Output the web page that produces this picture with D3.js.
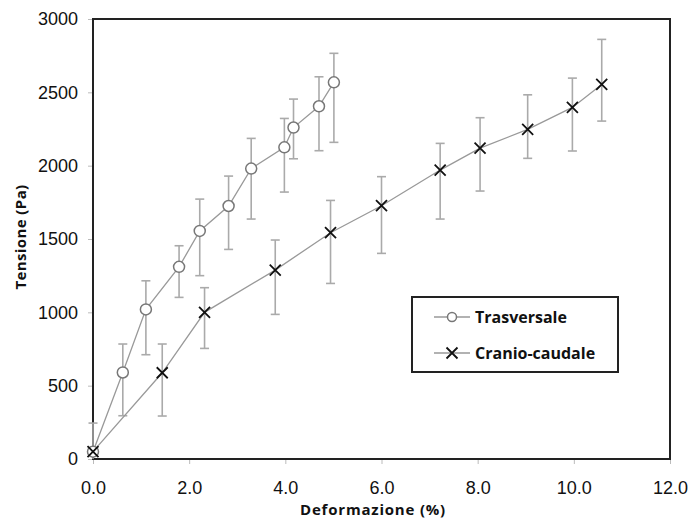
<!DOCTYPE html>
<html>
<head>
<meta charset="utf-8">
<script src="https://cdn.jsdelivr.net/npm/d3@7"></script>
<style>
  body { margin: 0; background: #fff; }
  svg { display: block; }
</style>
</head>
<body>
<div id="chart"></div>
<script>
/* Data */
const trasvX = [0, 0.62, 1.1, 1.79, 2.22, 2.82, 3.29, 3.98, 4.17, 4.7, 5.01]
const trasvY = [50, 590, 1020, 1310, 1555, 1725, 1980, 2125, 2260, 2405, 2568]
const trasvLo = [50, 295, 711, 1102, 1250, 1429, 1636, 1820, 2047, 2102, 2159]
const trasvHi = [50, 784, 1215, 1454, 1772, 1929, 2186, 2322, 2454, 2606, 2766]

const cranioX = [0, 1.44, 2.32, 3.79, 4.94, 6.0, 7.22, 8.05, 9.04, 9.97, 10.58]
const cranioY = [50, 588, 1000, 1288, 1543, 1727, 1970, 2120, 2247, 2397, 2554]
const cranioLo = [0, 293, 754, 986, 1197, 1402, 1636, 1827, 2050, 2100, 2304]
const cranioHi = [245, 784, 1168, 1493, 1763, 1925, 2152, 2327, 2483, 2597, 2861]

const xTicks = [0, 2, 4, 6, 8, 10, 12]
const yTicks = [0, 500, 1000, 1500, 2000, 2500, 3000]
const seriesNames = ["Trasversale", "Cranio-caudale"]
/* End Data */

const width = 689
const height = 518
const margin = {top: 19, right: 19, bottom: 59, left: 93}

const svg = d3.select("#chart").append("svg")
    .attr("width", width)
    .attr("height", height)

const x = d3.scaleLinear().domain([0, 12]).range([margin.left, width - margin.right])
const y = d3.scaleLinear().domain([0, 3000]).range([height - margin.bottom, margin.top])

// axes
const xAxis = svg.append("g")
    .attr("transform", `translate(0,${height - margin.bottom})`)
    .call(d3.axisBottom(x).tickValues(xTicks).tickFormat(d3.format(".1f")).tickSize(5).tickPadding(17))
const yAxis = svg.append("g")
    .attr("transform", `translate(${margin.left},0)`)
    .call(d3.axisLeft(y).tickValues(yTicks).tickFormat(d3.format("d")).tickSize(5).tickPadding(10))

;[xAxis, yAxis].forEach(g => {
  g.select(".domain").remove()
  g.selectAll(".tick line").attr("stroke", "#bbb")
  g.selectAll(".tick text")
      .attr("font-family", "Liberation Sans, Arial, sans-serif")
      .attr("font-size", 18)
      .attr("fill", "#111")
})

// frame
svg.append("rect")
    .attr("x", x(0))
    .attr("y", y(3000))
    .attr("width", x(12) - x(0))
    .attr("height", y(0) - y(3000))
    .attr("fill", "none")
    .attr("stroke", "#222")
    .attr("stroke-width", 2)

svg.append("text")
    .attr("x", 373)
    .attr("y", 515)
    .attr("text-anchor", "middle")
    .attr("font-family", "Open Sans, sans-serif")
    .attr("font-weight", "bold")
    .attr("font-size", 15)
    .attr("letter-spacing", 0.8)
    .attr("fill", "#111")
    .text("Deformazione (%)")

svg.append("text")
    .attr("transform", `translate(26,237) rotate(-90)`)
    .attr("text-anchor", "middle")
    .attr("font-family", "Open Sans, sans-serif")
    .attr("font-weight", "bold")
    .attr("font-size", 15)
    .attr("letter-spacing", 0.4)
    .attr("fill", "#111")
    .text("Tensione (Pa)")

const line = d3.line()

const drawErrors = (xs, lo, hi) => {
  const g = svg.append("g").attr("stroke", "#aaa").attr("stroke-width", 1.6)
  xs.forEach((d, i) => {
    if (hi[i] === lo[i]) return
    g.append("line").attr("x1", x(d)).attr("x2", x(d)).attr("y1", y(lo[i])).attr("y2", y(hi[i]))
    g.append("line").attr("x1", x(d) - 4.5).attr("x2", x(d) + 4.5).attr("y1", y(hi[i])).attr("y2", y(hi[i]))
    if (lo[i] > 0) {
      g.append("line").attr("x1", x(d) - 4.5).attr("x2", x(d) + 4.5).attr("y1", y(lo[i])).attr("y2", y(lo[i]))
    }
  })
}

drawErrors(trasvX, trasvLo, trasvHi)
drawErrors(cranioX, cranioLo, cranioHi)

const drawLine = (xs, ys) => {
  svg.append("path")
      .attr("d", line(xs.map((d, i) => [x(d), y(ys[i])])))
      .attr("fill", "none")
      .attr("stroke", "#999")
      .attr("stroke-width", 1.3)
}

drawLine(trasvX, trasvY)
drawLine(cranioX, cranioY)

const circle = (g, cx, cy, r) => g.append("circle")
    .attr("cx", cx).attr("cy", cy).attr("r", r)
    .attr("fill", "#fff").attr("stroke", "#777").attr("stroke-width", 1.5)

const cross = (g, cx, cy, s) => g.append("path")
    .attr("d", `M${cx - s},${cy - s}L${cx + s},${cy + s}M${cx - s},${cy + s}L${cx + s},${cy - s}`)
    .attr("stroke", "#111").attr("stroke-width", 1.8)

const marks = svg.append("g")
trasvX.forEach((d, i) => circle(marks, x(d), y(trasvY[i]), 5.5))
cranioX.forEach((d, i) => cross(marks, x(d), y(cranioY[i]), 5.5))

// legend
const legend = svg.append("g").attr("transform", "translate(412,297)")
legend.append("rect")
    .attr("width", 206)
    .attr("height", 75)
    .attr("fill", "#fff")
    .attr("stroke", "#222")
    .attr("stroke-width", 2)

seriesNames.forEach((name, i) => {
  const ly = 20 + i * 36
  legend.append("line")
      .attr("x1", 22).attr("x2", 58).attr("y1", ly).attr("y2", ly)
      .attr("stroke", "#999").attr("stroke-width", 1.3)
  if (i === 0) circle(legend, 40, ly, 4.5)
  else cross(legend, 40, ly, 5.5)
  legend.append("text")
      .attr("x", 63)
      .attr("y", ly)
      .attr("dy", "0.35em")
      .attr("font-family", "Open Sans, sans-serif")
      .attr("font-weight", "bold")
      .attr("font-size", 16)
      .attr("fill", "#111")
      .text(name)
})
</script>
</body>
</html>
